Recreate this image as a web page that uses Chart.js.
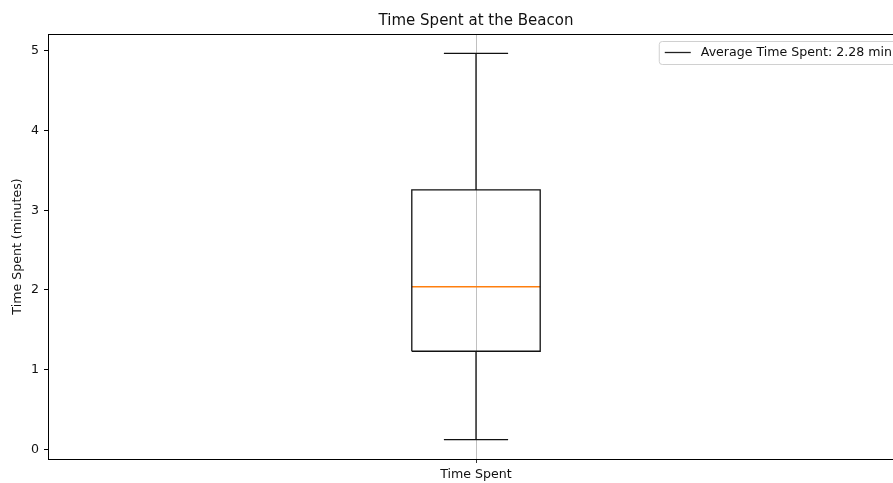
<!DOCTYPE html>
<html>
<head>
<meta charset="utf-8">
<script src="https://cdn.jsdelivr.net/npm/chart.js@4.4.1/dist/chart.umd.min.js"></script>
<style>
  html, body { margin: 0; padding: 0; background: #fff; overflow: hidden; }
  #wrap { width: 960px; height: 483px; }
</style>
</head>
<body>
<div id="wrap"><canvas id="myChart"></canvas></div>
<script>
// box stats (minutes)
var categories = ["Time Spent"];
var whiskerLow = [0.12];
var q1 = [1.23];
var median = [2.04];
var q3 = [3.255];
var whiskerHigh = [4.97];
var average = [2.28];
var yTicks = [0, 1, 2, 3, 4, 5];

var boxHalf = 0.075;   // matplotlib default width 0.15
var capHalf = boxHalf / 2;
var font = "'DejaVu Sans', sans-serif";
var lw = 1.3;

function seg(x0, y0, x1, y1) { return [{ x: x0, y: y0 }, { x: x1, y: y1 }]; }

var x = 1;
var lineStyle = { type: "scatter", showLine: true, borderColor: "#111", borderWidth: lw, pointRadius: 0, fill: false };
var datasets = [
  Object.assign({}, lineStyle, { data: seg(x, whiskerLow[0], x, q1[0]) }),
  Object.assign({}, lineStyle, { data: seg(x, q3[0], x, whiskerHigh[0]) }),
  Object.assign({}, lineStyle, { data: seg(x - capHalf, whiskerLow[0], x + capHalf, whiskerLow[0]) }),
  Object.assign({}, lineStyle, { data: seg(x - capHalf, whiskerHigh[0], x + capHalf, whiskerHigh[0]) }),
  Object.assign({}, lineStyle, {
    data: [
      { x: x - boxHalf, y: q1[0] }, { x: x + boxHalf, y: q1[0] },
      { x: x + boxHalf, y: q3[0] }, { x: x - boxHalf, y: q3[0] },
      { x: x - boxHalf, y: q1[0] }
    ]
  }),
  Object.assign({}, lineStyle, { borderColor: "#ff7f0e", data: seg(x - boxHalf, median[0], x + boxHalf, median[0]) })
];

var range = whiskerHigh[0] - whiskerLow[0];

// frame + matplotlib style legend
var framePlugin = {
  id: "frame",
  afterDraw: function (chart) {
    var a = chart.chartArea, ctx = chart.ctx;
    ctx.save();
    ctx.strokeStyle = "#000";
    ctx.lineWidth = 1;
    ctx.strokeRect(a.left + 0.5, a.top + 0.5, a.right - a.left, a.bottom - a.top);

    var label = "Average Time Spent: " + average[0].toFixed(2) + " min";
    ctx.font = "12.6px " + font;
    var tw = ctx.measureText(label).width;
    var right = a.right - 7, top = a.top + 7;
    var left = right - tw - 47, h = 23;
    ctx.fillStyle = "rgba(255,255,255,0.8)";
    ctx.strokeStyle = "#d0d0d0";
    ctx.beginPath();
    ctx.roundRect(left + 0.5, top + 0.5, right - left, h, 3);
    ctx.fill();
    ctx.stroke();
    ctx.strokeStyle = "#222";
    ctx.lineWidth = lw;
    ctx.beginPath();
    ctx.moveTo(left + 6, top + 11.5);
    ctx.lineTo(left + 32, top + 11.5);
    ctx.stroke();
    ctx.fillStyle = "#111";
    ctx.textBaseline = "middle";
    ctx.fillText(label, left + 42, top + 12);
    ctx.restore();
  }
};

new Chart("myChart", {
  type: "scatter",
  data: { datasets: datasets },
  options: {
    responsive: true,
    maintainAspectRatio: false,
    animation: false,
    layout: { padding: { left: 0, right: 56, top: 0, bottom: 0 } },
    plugins: {
      legend: { display: false },
      tooltip: { enabled: false },
      title: {
        display: true,
        text: "Time Spent at the Beacon",
        fullSize: false,
        color: "#111",
        font: { family: font, size: 15, weight: "normal" },
        padding: { top: 12, bottom: 4 }
      }
    },
    scales: {
      x: {
        type: "linear",
        min: 0.5,
        max: 1.5,
        afterFit: function (s) { s.height = 24; },
        afterBuildTicks: function (s) { s.ticks = [{ value: 1 }]; },
        grid: { color: "#b0b0b0", lineWidth: 0.8, tickColor: "#000", tickLength: 4, drawOnChartArea: true },
        border: { display: true, color: "#000", width: 1 },
        ticks: {
          color: "#111",
          padding: 4,
          font: { family: font, size: 12.6 },
          callback: function () { return categories[0]; }
        }
      },
      y: {
        type: "linear",
        min: whiskerLow[0] - 0.05 * range,
        max: whiskerHigh[0] + 0.05 * range,
        afterFit: function (s) { s.width = 48; },
        afterBuildTicks: function (s) { s.ticks = yTicks.map(function (v) { return { value: v }; }); },
        grid: { drawOnChartArea: false, tickColor: "#000", tickLength: 4 },
        border: { display: true, color: "#000", width: 1 },
        ticks: { color: "#111", padding: 5, font: { family: font, size: 12.6 } },
        title: {
          display: true,
          text: "Time Spent (minutes)",
          color: "#111",
          font: { family: font, size: 12.6 },
          padding: { top: 10, bottom: 0 }
        }
      }
    }
  },
  plugins: [framePlugin]
});
</script>
</body>
</html>
